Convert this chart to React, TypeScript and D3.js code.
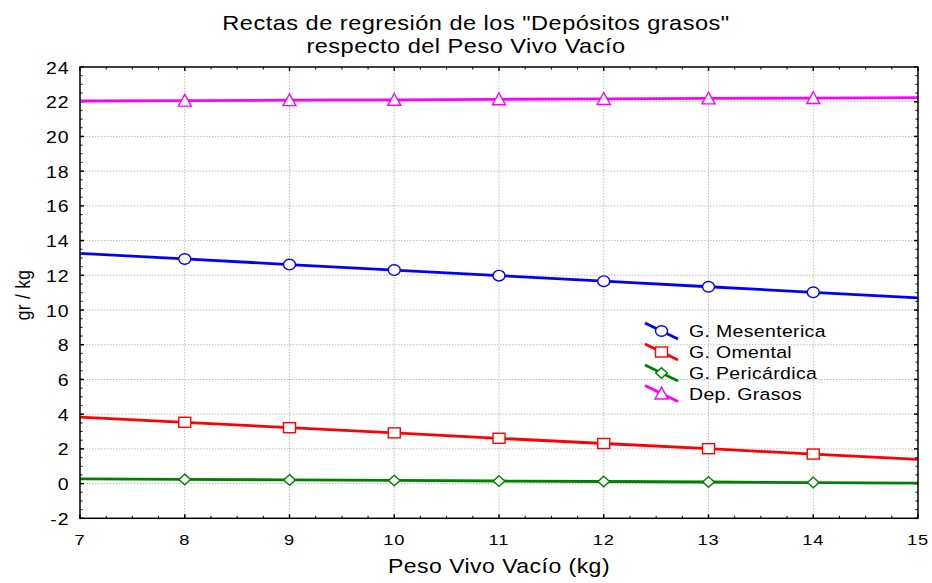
import React from 'react';
import * as d3 from 'd3';

const X_VALUES = [7, 8, 9, 10, 11, 12, 13, 14, 15];
const MARKER_X = [8, 9, 10, 11, 12, 13, 14];
const mesenterica = [13.26, 12.94, 12.62, 12.3, 11.98, 11.66, 11.34, 11.02, 10.7];
const omental = [3.83, 3.53, 3.22, 2.92, 2.61, 2.31, 2.01, 1.7, 1.4];
const pericardica = [0.27, 0.24, 0.21, 0.18, 0.15, 0.12, 0.09, 0.06, 0.03];
const depGrasos = [22.04, 22.06, 22.09, 22.11, 22.14, 22.16, 22.19, 22.21, 22.24];

const SERIES_NAMES = ['G. Mesenterica', 'G. Omental', 'G. Pericárdica', 'Dep. Grasos'];
const SERIES_COLORS = ['#0000ff', '#ff0000', '#008000', '#ff00ff'];
const SERIES_MARKERS = ['circle', 'square', 'diamond', 'triangle'];
const SERIES_VALUES = [mesenterica, omental, pericardica, depGrasos];

const Y_TICKS = [-2, 0, 2, 4, 6, 8, 10, 12, 14, 16, 18, 20, 22, 24];
const X_TICKS = [7, 8, 9, 10, 11, 12, 13, 14, 15];
const TITLE_1 = 'Rectas de regresión de los "Depósitos grasos"';
const TITLE_2 = 'respecto del Peso Vivo Vacío';
const X_LABEL = 'Peso Vivo Vacío (kg)';
const Y_LABEL = 'gr / kg';

const FONT = '"Liberation Sans", Arial, sans-serif';
const SX = 1.18;

function T({ x, y, size, anchor = 'start', rot, children, ls = 0.4 }: any) {
  return (
    <text
      transform={`translate(${x},${y}) scale(${SX},1)${rot ? ` rotate(${rot})` : ''}`}
      textAnchor={anchor}
      fontSize={size}
      fontFamily={FONT}
      letterSpacing={ls}
      fill="#000"
    >
      {children}
    </text>
  );
}

function Marker({ type, cx, cy, color }: any) {
  const common = { fill: '#fff', stroke: color, strokeWidth: 1.4 };
  if (type === 'circle') return <ellipse cx={cx} cy={cy} rx={6} ry={5.3} {...common} />;
  if (type === 'square') return <rect x={cx - 6} y={cy - 5} width={12} height={10} {...common} />;
  if (type === 'diamond')
    return <path d={`M${cx},${cy - 5.3} L${cx + 5.8},${cy} L${cx},${cy + 5.3} L${cx - 5.8},${cy} Z`} {...common} />;
  return <path d={`M${cx},${cy - 6.3} L${cx + 6.5},${cy + 5.5} L${cx - 6.5},${cy + 5.5} Z`} {...common} />;
}

export default function App() {
  const W = 932;
  const H = 583;
  const L = 80, R = 918, TOP = 67, B = 518.3;
  const x = d3.scaleLinear().domain([7, 15]).range([L, R]);
  const y = d3.scaleLinear().domain([-2, 24]).range([B, TOP]);

  const line = d3
    .line<[number, number]>()
    .x((d) => x(d[0]))
    .y((d) => y(d[1]));

  const xMinor = d3.range(7, 15.001, 0.25).filter((v) => Math.abs(v - Math.round(v)) > 1e-6);
  const yMinor = d3.range(-2, 24.001, 0.5).filter((v) => Math.abs(v / 2 - Math.round(v / 2)) > 1e-6);

  const legendRows = [331, 352, 373, 393.5];

  return (
    <svg
      width={W}
      height={H}
      style={{ position: 'absolute', left: 0, top: 0, background: '#fff' }}
    >
      <rect x={0} y={0} width={W} height={H} fill="#fff" />
      {/* grid */}
      {X_TICKS.slice(1, -1).map((v) => (
        <line key={'gx' + v} x1={x(v)} x2={x(v)} y1={TOP} y2={B} stroke="#bdbdbd" strokeWidth={1} strokeDasharray="1.5,1.5" />
      ))}
      {Y_TICKS.slice(1, -1).map((v) => (
        <line key={'gy' + v} x1={L} x2={R} y1={y(v)} y2={y(v)} stroke="#bdbdbd" strokeWidth={1} strokeDasharray="1.5,1.5" />
      ))}

      {/* ticks (inward) */}
      {X_TICKS.map((v) => (
        <g key={'tx' + v}>
          <line x1={x(v)} x2={x(v)} y1={B} y2={B - 4} stroke="#000" strokeWidth={1.5} />
          <line x1={x(v)} x2={x(v)} y1={TOP} y2={TOP + 4} stroke="#000" strokeWidth={1.5} />
        </g>
      ))}
      {xMinor.map((v) => (
        <g key={'mx' + v}>
          <line x1={x(v)} x2={x(v)} y1={B} y2={B - 2.5} stroke="#000" strokeWidth={1} />
          <line x1={x(v)} x2={x(v)} y1={TOP} y2={TOP + 2.5} stroke="#000" strokeWidth={1} />
        </g>
      ))}
      {Y_TICKS.map((v) => (
        <g key={'ty' + v}>
          <line x1={L} x2={L + 4} y1={y(v)} y2={y(v)} stroke="#000" strokeWidth={1.5} />
          <line x1={R} x2={R - 4} y1={y(v)} y2={y(v)} stroke="#000" strokeWidth={1.5} />
        </g>
      ))}
      {yMinor.map((v) => (
        <g key={'my' + v}>
          <line x1={L} x2={L + 2.5} y1={y(v)} y2={y(v)} stroke="#000" strokeWidth={1} />
          <line x1={R} x2={R - 2.5} y1={y(v)} y2={y(v)} stroke="#000" strokeWidth={1} />
        </g>
      ))}

      {/* series */}
      {SERIES_VALUES.map((vals, i) => (
        <g key={'s' + i}>
          <path
            d={line(X_VALUES.map((xv, j) => [xv, vals[j]] as [number, number])) || ''}
            fill="none"
            stroke={SERIES_COLORS[i]}
            strokeWidth={2.8}
          />
          {X_VALUES.map((xv, j) =>
            MARKER_X.includes(xv) ? (
              <Marker key={j} type={SERIES_MARKERS[i]} cx={x(xv)} cy={y(vals[j])} color={SERIES_COLORS[i]} />
            ) : null
          )}
        </g>
      ))}

      {/* frame */}
      <rect x={L} y={TOP} width={R - L} height={B - TOP} fill="none" stroke="#000" strokeWidth={1.5} />

      {/* tick labels */}
      {Y_TICKS.map((v) => (
        <T key={'ly' + v} x={69.5} y={y(v) + 6.5} size={16.5} anchor="end" ls={0.8}>
          {String(v)}
        </T>
      ))}
      {X_TICKS.map((v) => (
        <T key={'lx' + v} x={x(v)} y={545} size={15.5} anchor="middle" ls={0.8}>
          {String(v)}
        </T>
      ))}

      {/* titles */}
      <T x={476} y={30} size={20} anchor="middle">{TITLE_1}</T>
      <T x={466} y={53} size={20} anchor="middle">{TITLE_2}</T>
      <T x={499} y={573} size={19.5} anchor="middle">{X_LABEL}</T>
      <text
        transform={`translate(29.5,295) scale(${SX},1) rotate(-90)`}
        textAnchor="middle"
        fontSize={17.5}
        fontFamily={FONT}
        letterSpacing={0.3}
      >
        {Y_LABEL}
      </text>

      {/* legend */}
      {SERIES_NAMES.map((name, i) => {
        const cy = legendRows[i];
        const cx = 661.5;
        return (
          <g key={'lg' + i}>
            <line x1={cx - 16.5} y1={cy - 8} x2={cx + 16.5} y2={cy + 8} stroke={SERIES_COLORS[i]} strokeWidth={2.8} />
            <Marker type={SERIES_MARKERS[i]} cx={cx} cy={cy} color={SERIES_COLORS[i]} />
            <T x={689} y={cy + 6} size={16.5} ls={0.3}>{name}</T>
          </g>
        );
      })}
    </svg>
  );
}
